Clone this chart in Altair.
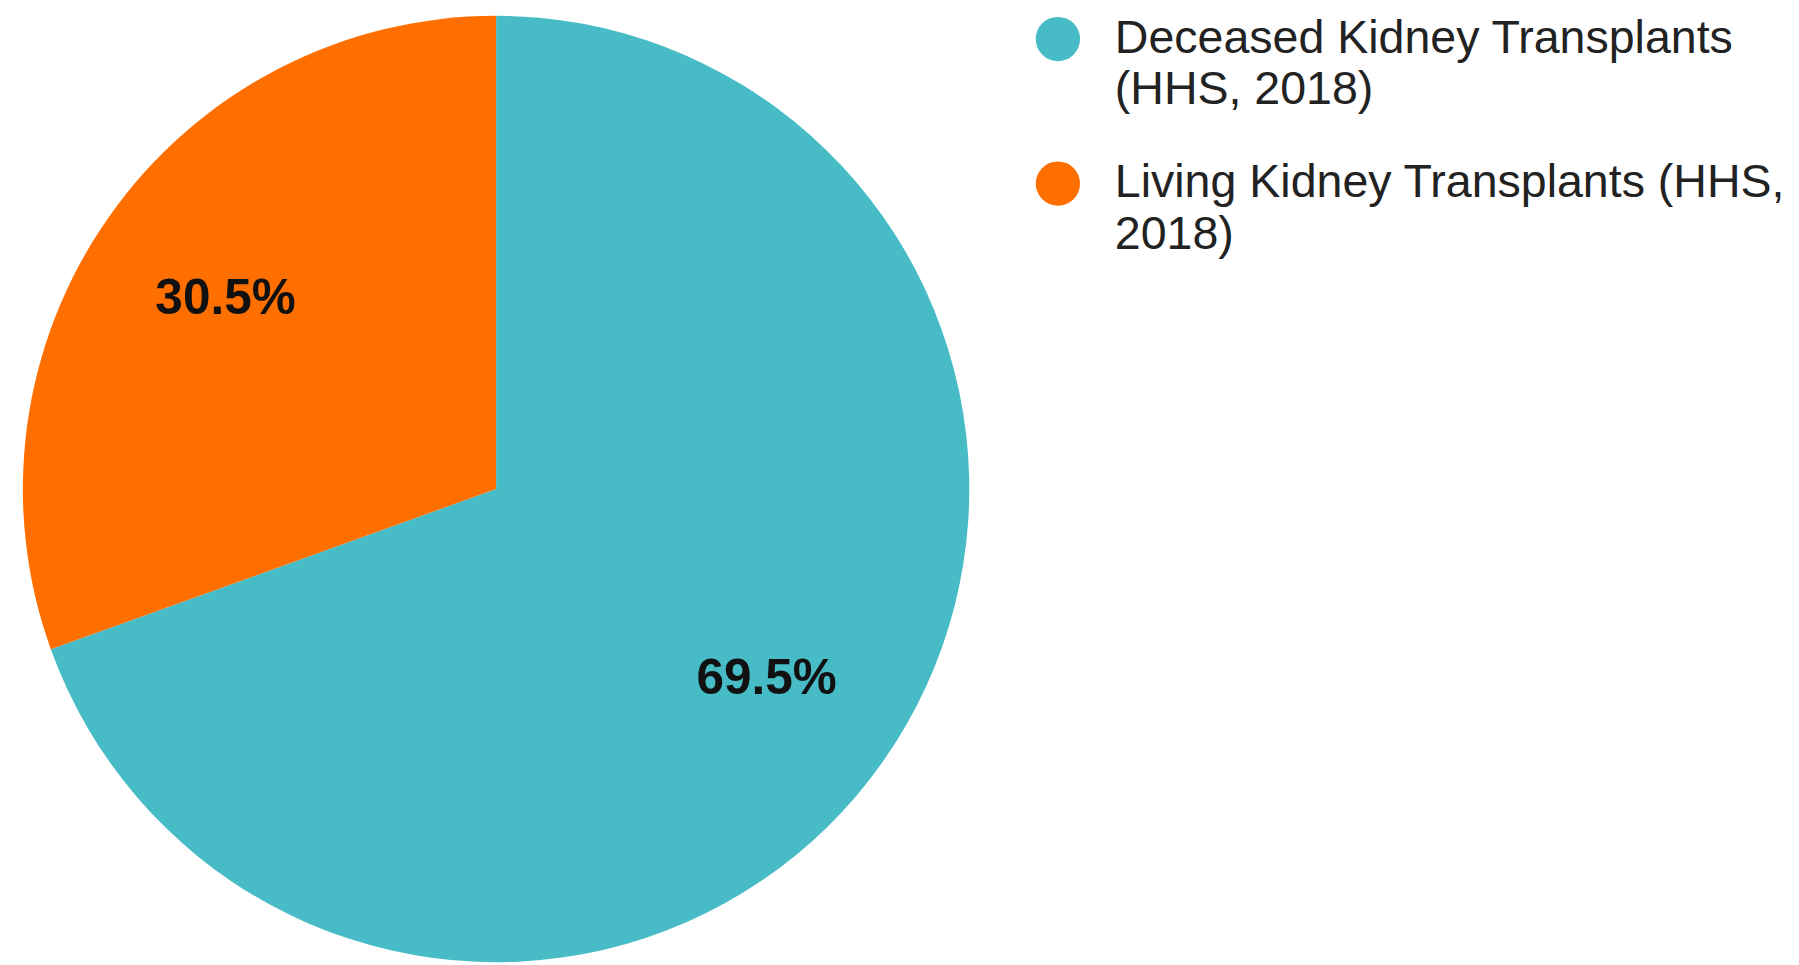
import altair as alt
import pandas as pd

legend_lines = [
    "Deceased Kidney Transplants\n(HHS, 2018)",
    "Living Kidney Transplants (HHS,\n2018)",
]
values = [69.5, 30.5]
slice_order = [0, 1]
colors = ["#47BCC6", "#FF6F00"]

df = pd.DataFrame({"category": legend_lines, "value": values, "order": slice_order})

base = alt.Chart(df).encode(
    theta=alt.Theta("value:Q", stack=True),
    color=alt.Color(
        "category:N",
        scale=alt.Scale(domain=legend_lines, range=colors),
        sort=legend_lines,
        legend=alt.Legend(
            title=None,
            orient="right",
            offset=66,
            symbolType="circle",
            symbolSize=2000,
            symbolStrokeWidth=0,
            labelFont="Liberation Sans",
            labelFontSize=47,
            labelColor="#222222",
            labelLimit=900,
            labelOffset=34,
            labelBaseline="middle",
            rowPadding=46,
            labelExpr="split(datum.label, '\\n')",
        ),
    ),
    order=alt.Order("order:Q"),
)

arcs = base.mark_arc(outerRadius=478)

labels = base.transform_calculate(
    lab="format(datum.value, '.1f') + '%'"
).mark_text(
    radius=334,
    font="Liberation Sans",
    fontSize=50,
    fontWeight="bold",
).encode(text="lab:N", color=alt.value("#111111"))

chart = (
    alt.layer(arcs, labels)
    .properties(
        width=956,
        height=956,
        padding={"left": 15, "top": 3, "right": 5, "bottom": 0},
    )
    .configure_view(stroke=None)
    .configure(style={"guide-label": {"lineHeight": 52}})
)

chart.save("out.html", embed_options={"renderer": "svg", "actions": False})
